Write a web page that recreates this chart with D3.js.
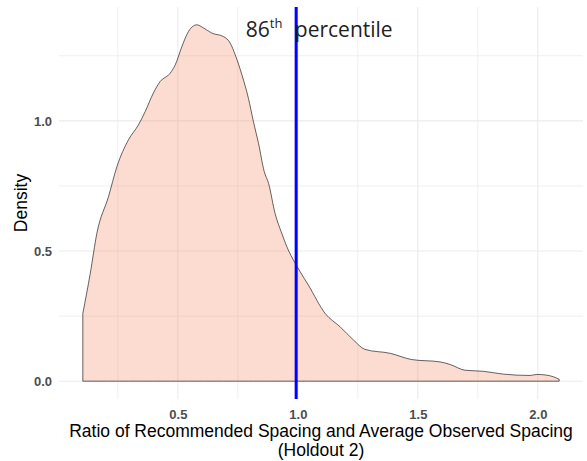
<!DOCTYPE html>
<html>
<head>
<meta charset="utf-8">
<script src="https://cdn.jsdelivr.net/npm/d3@7"></script>
<style>
  body { margin: 0; background: #fff; }
  svg { display: block; }
</style>
</head>
<body>
<svg width="587" height="461"></svg>
<script>
// density estimate
var ratio = [0.104, 0.135, 0.1625, 0.211, 0.246, 0.294, 0.336, 0.364, 0.398, 0.426,
  0.468, 0.489, 0.517, 0.544, 0.579, 0.607, 0.642, 0.690, 0.718, 0.739,
  0.767, 0.794, 0.815, 0.836, 0.860, 0.878, 0.905, 0.933, 0.954, 0.989,
  1.010, 1.044, 1.114, 1.176, 1.232, 1.280, 1.385, 1.475, 1.593, 1.635,
  1.697, 1.773, 1.857, 1.968, 1.996, 2.030, 2.065, 2.089];
var density = [0.26, 0.414, 0.568, 0.709, 0.824, 0.927, 0.985, 1.036, 1.107, 1.151,
  1.183, 1.215, 1.286, 1.343, 1.369, 1.357, 1.337, 1.324, 1.299, 1.254,
  1.177, 1.087, 0.997, 0.914, 0.805, 0.760, 0.645, 0.568, 0.517, 0.453,
  0.420, 0.369, 0.260, 0.209, 0.158, 0.122, 0.107, 0.083, 0.074, 0.064,
  0.042, 0.038, 0.027, 0.022, 0.026, 0.024, 0.017, 0.007];
var xTicks = [0.5, 1.0, 1.5, 2.0];
var xMinor = [0.25, 0.75, 1.25, 1.75];
var yTicks = [0.0, 0.5, 1.0];
var yMinor = [0.25, 0.75, 1.25];
var percentileValue = 0.993;
var xTitle = ["Ratio of Recommended Spacing and Average Observed Spacing", "(Holdout 2)"];
var yTitle = "Density";

var data = ratio.map(function(r, i) { return {x: r, y: density[i]}; });

var svg = d3.select("svg"),
    margin = {top: 7, right: 4, bottom: 62, left: 59},
    width = +svg.attr("width") - margin.left - margin.right,
    height = +svg.attr("height") - margin.top - margin.bottom;

// ggplot style 5% expansion
var xExt = d3.extent(ratio), xPad = (xExt[1] - xExt[0]) * 0.05;
var yMax = d3.max(density), yPad = yMax * 0.05;

var x = d3.scaleLinear().domain([xExt[0] - xPad, xExt[1] + xPad]).range([0, width]),
    y = d3.scaleLinear().domain([-yPad, yMax + yPad]).range([height, 0]);

var g = svg.append("g")
    .attr("transform", "translate(" + margin.left + "," + margin.top + ")");

// grid
g.selectAll(".vminor").data(xMinor).enter().append("line")
    .attr("x1", x).attr("x2", x).attr("y1", 0).attr("y2", height)
    .attr("stroke", "#efefef").attr("stroke-width", 1);
g.selectAll(".hminor").data(yMinor).enter().append("line")
    .attr("y1", y).attr("y2", y).attr("x1", 0).attr("x2", width)
    .attr("stroke", "#efefef").attr("stroke-width", 1);
g.selectAll(".vmajor").data(xTicks).enter().append("line")
    .attr("x1", x).attr("x2", x).attr("y1", 0).attr("y2", height)
    .attr("stroke", "#ebebeb").attr("stroke-width", 1.1);
g.selectAll(".hmajor").data(yTicks).enter().append("line")
    .attr("y1", y).attr("y2", y).attr("x1", 0).attr("x2", width)
    .attr("stroke", "#ebebeb").attr("stroke-width", 1.1);

// density area
var area = d3.area()
    .x(function(d) { return x(d.x); })
    .y0(y(0))
    .y1(function(d) { return y(d.y); })
    .curve(d3.curveMonotoneX);

g.append("path")
    .datum(data)
    .attr("d", area)
    .attr("fill", "#f58c66")
    .attr("fill-opacity", 0.3)
    .attr("stroke", "#000")
    .attr("stroke-width", 0.6);

// percentile line
g.append("line")
    .attr("x1", x(percentileValue)).attr("x2", x(percentileValue))
    .attr("y1", 0).attr("y2", height)
    .attr("stroke", "#0000ff").attr("stroke-width", 3);

// axes (labels only, like theme_minimal)
var xAxis = g.append("g")
    .attr("transform", "translate(0," + height + ")")
    .call(d3.axisBottom(x).tickValues(xTicks).tickFormat(d3.format(".1f")).tickSize(0).tickPadding(11));
var yAxis = g.append("g")
    .call(d3.axisLeft(y).tickValues(yTicks).tickFormat(d3.format(".1f")).tickSize(0).tickPadding(7));
[xAxis, yAxis].forEach(function(a) {
  a.select(".domain").remove();
  a.selectAll("text")
    .attr("fill", "#4d4d4d")
    .style("font-family", "'Liberation Sans', Arial, sans-serif")
    .style("font-size", "13px")
    .style("font-weight", "bold");
});

// annotation
var ann = g.append("text")
    .attr("x", x(1.0) - 52)
    .attr("y", y(1.323))
    .attr("fill", "#222")
    .style("font-family", "'Open Sans', sans-serif")
    .style("font-size", "21px");
ann.append("tspan").text("86");
ann.append("tspan").attr("dy", -9).style("font-size", "13px").text("th");
g.append("text")
    .attr("x", x(1.0) - 3)
    .attr("y", y(1.323))
    .attr("fill", "#222")
    .style("font-family", "'Open Sans', sans-serif")
    .style("font-size", "21px")
    .text("percentile");

// titles
var xt = svg.append("text")
    .attr("text-anchor", "middle")
    .style("font-family", "'Liberation Sans', Arial, sans-serif")
    .style("font-size", "17.5px")
    .attr("fill", "#000");
xTitle.forEach(function(t, i) {
  xt.append("tspan")
    .attr("x", margin.left + width / 2)
    .attr("y", 437 + i * 18.5)
    .text(t);
});
svg.append("text")
    .attr("transform", "translate(27," + (margin.top + height / 2) + ") rotate(-90)")
    .attr("text-anchor", "middle")
    .style("font-family", "'Liberation Sans', Arial, sans-serif")
    .style("font-size", "17.5px")
    .attr("fill", "#000")
    .text(yTitle);
</script>
</body>
</html>
